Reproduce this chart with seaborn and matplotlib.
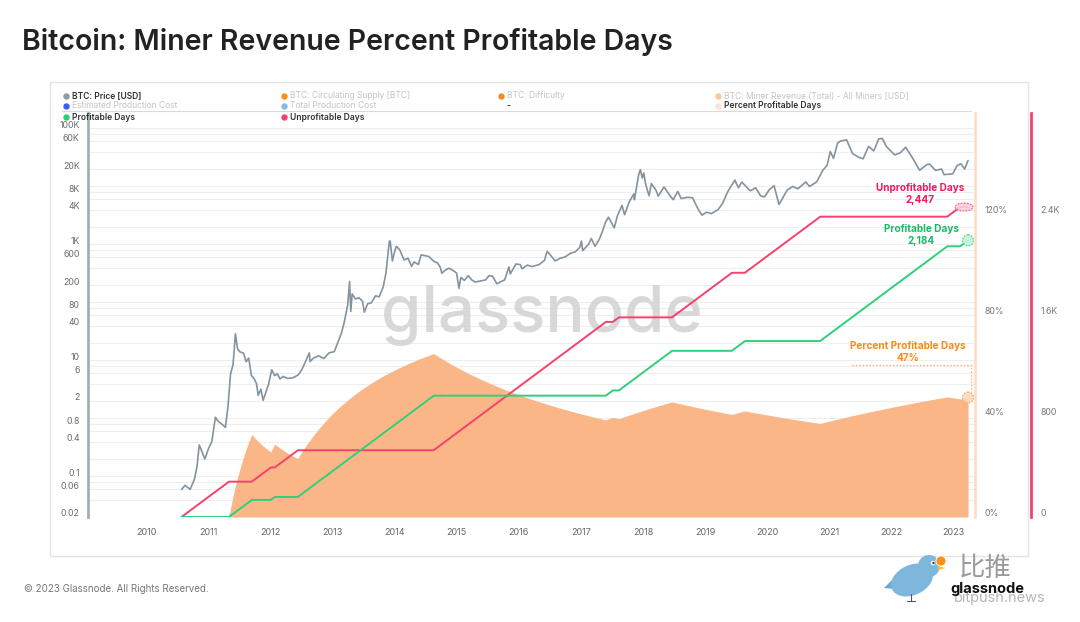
import numpy as np
import pandas as pd
import matplotlib
matplotlib.use("Agg")
import matplotlib.pyplot as plt
import matplotlib.transforms as mtransforms
from matplotlib.patches import Ellipse, Rectangle, Circle, Polygon
import seaborn as sns

# ---------------- data ----------------
price_dates = [
    "2010-07-26", "2010-08-15", "2010-09-15", "2010-10-10", "2010-10-25", "2010-11-07", "2010-11-20",
    "2010-12-10", "2010-12-31", "2011-01-20", "2011-02-10", "2011-02-25", "2011-03-20", "2011-04-10",
    "2011-04-25", "2011-05-10", "2011-05-25", "2011-06-08", "2011-06-20", "2011-07-05", "2011-07-25",
    "2011-08-10", "2011-08-25", "2011-09-10", "2011-09-25", "2011-10-10", "2011-10-20", "2011-11-05",
    "2011-11-18", "2011-12-05", "2011-12-20", "2012-01-08", "2012-01-25", "2012-02-10", "2012-02-25",
    "2012-03-15", "2012-04-10", "2012-05-10", "2012-06-10", "2012-06-30", "2012-07-20", "2012-08-16",
    "2012-08-20", "2012-09-10", "2012-10-10", "2012-11-10", "2012-12-10", "2013-01-10", "2013-01-31",
    "2013-02-20", "2013-03-10", "2013-03-30", "2013-04-10", "2013-04-17", "2013-04-25", "2013-05-15",
    "2013-06-05", "2013-06-25", "2013-07-06", "2013-07-25", "2013-08-15", "2013-09-10", "2013-10-01",
    "2013-10-25", "2013-11-10", "2013-11-30", "2013-12-05", "2013-12-18", "2013-12-31", "2014-01-10",
    "2014-01-30", "2014-02-25", "2014-03-20", "2014-04-10", "2014-04-25", "2014-05-20", "2014-06-05",
    "2014-06-30", "2014-07-20", "2014-08-20", "2014-09-10", "2014-09-25", "2014-10-05", "2014-10-25",
    "2014-11-15", "2014-12-15", "2014-12-31", "2015-01-14", "2015-01-25", "2015-02-15", "2015-03-10",
    "2015-03-30", "2015-04-20", "2015-05-20", "2015-06-20", "2015-07-10", "2015-07-30", "2015-08-25",
    "2015-09-20", "2015-10-10", "2015-11-04", "2015-11-12", "2015-12-15", "2016-01-10", "2016-01-20",
    "2016-02-20", "2016-03-20", "2016-04-30", "2016-05-31", "2016-06-16", "2016-07-01", "2016-08-02",
    "2016-08-30", "2016-09-30", "2016-10-30", "2016-11-30", "2016-12-25", "2017-01-04", "2017-01-11",
    "2017-02-15", "2017-03-03", "2017-03-25", "2017-04-20", "2017-05-10", "2017-05-25", "2017-06-12",
    "2017-07-16", "2017-08-05", "2017-08-31", "2017-09-15", "2017-10-12", "2017-11-08", "2017-11-12",
    "2017-12-07", "2017-12-17", "2017-12-28", "2018-01-06", "2018-01-17", "2018-02-06", "2018-02-20",
    "2018-03-20", "2018-04-01", "2018-05-05", "2018-06-01", "2018-06-28", "2018-07-25", "2018-08-14",
    "2018-09-20", "2018-10-20", "2018-11-25", "2018-12-15", "2019-01-10", "2019-02-08", "2019-03-20",
    "2019-04-15", "2019-05-14", "2019-06-26", "2019-07-17", "2019-08-06", "2019-09-25", "2019-10-26",
    "2019-11-25", "2019-12-18", "2020-01-15", "2020-02-12", "2020-03-12", "2020-04-30", "2020-06-01",
    "2020-07-01", "2020-08-17", "2020-09-08", "2020-10-20", "2020-11-25", "2020-12-20", "2021-01-08",
    "2021-01-27", "2021-02-21", "2021-03-13", "2021-04-14", "2021-05-19", "2021-06-22", "2021-07-20",
    "2021-08-22", "2021-09-21", "2021-10-20", "2021-11-10", "2021-12-04", "2022-01-22", "2022-02-24",
    "2022-03-28", "2022-05-10", "2022-06-18", "2022-07-30", "2022-08-15", "2022-09-20", "2022-10-25",
    "2022-11-09", "2022-12-30", "2023-01-25", "2023-02-16", "2023-03-10", "2023-03-30",
]
price_usd = [
    0.06, 0.07, 0.06, 0.09, 0.15, 0.35, 0.28,
    0.2, 0.3, 0.4, 1.05, 0.9, 0.8, 0.7,
    1.6, 5.8, 8.5, 29, 16, 14, 13.5,
    9.5, 11, 5.5, 4.9, 4.0, 2.5, 3.2,
    2.05, 2.9, 3.9, 6.9, 5.5, 5.9, 4.8,
    5.3, 4.9, 5.0, 5.6, 6.7, 8.9, 13.5,
    9.6, 11, 12, 10.8, 13.5, 14.2, 20.5,
    29, 46, 92, 230, 70, 140, 115,
    120, 105, 68, 95, 98, 130, 125,
    185, 320, 1130, 1150, 520, 750, 930,
    810, 540, 580, 420, 500, 450, 660,
    640, 620, 510, 480, 410, 320, 360,
    390, 350, 320, 175, 270, 240, 290,
    245, 225, 235, 245, 290, 285, 210,
    230, 245, 410, 310, 460, 450, 380,
    440, 415, 450, 530, 760, 680, 520,
    575, 610, 700, 750, 890, 1150, 780,
    1010, 1270, 930, 1240, 1750, 2400, 2950,
    1930, 3200, 4700, 3250, 5400, 7400, 5900,
    16000, 19500, 14000, 17100, 10900, 6900, 11200,
    8500, 6800, 9800, 7500, 5900, 8200, 6200,
    6500, 6400, 3900, 3200, 3600, 3400, 4000,
    5100, 8000, 12900, 9500, 11900, 8400, 9500,
    6900, 6600, 8800, 10300, 4900, 8700, 10000,
    9100, 12000, 10000, 12000, 19000, 23000, 40000,
    30500, 57000, 61000, 63500, 37000, 32000, 30000,
    49000, 41000, 66000, 67500, 49000, 35000, 38000,
    47500, 30000, 19000, 23800, 24300, 18900, 20000,
    16000, 16500, 23000, 24600, 20000, 28000,
]

# runs of miner profitability (1 = profitable day, 0 = unprofitable day)
run_starts = ["2010-07-26", "2011-05-01", "2011-09-13", "2012-01-03", "2012-01-26", "2012-06-10",
              "2014-08-19", "2017-05-28", "2017-07-08", "2017-08-13", "2018-06-22", "2019-06-09",
              "2019-08-25", "2020-11-10", "2022-11-28", "2023-02-12"]
run_profitable = [0, 1, 0, 1, 0, 1, 0, 1, 0, 1, 0, 1, 0, 1, 0, 1]
series_end = "2023-03-31"

year_ticks = list(range(2010, 2024))
price_ticks = [0.02, 0.06, 0.1, 0.4, 0.8, 2, 6, 10, 40, 80, 200, 600, 1000, 4000, 8000, 20000, 60000, 100000]
price_tick_labels = ["0.02", "0.06", "0.1", "0.4", "0.8", "2", "6", "10", "40", "80", "200", "600",
                     "1K", "4K", "8K", "20K", "60K", "100K"]
pct_ticks = [0, 40, 80, 120]
pct_tick_labels = ["0%", "40%", "80%", "120%"]
day_ticks = [0, 800, 1600, 2400]
day_tick_labels = ["0", "800", "1.6K", "2.4K"]

legend_rows = [
    [("BTC: Price [USD]", "#8c9ba5", True), ("BTC: Circulating Supply [BTC]", "#f7931a", False),
     ("BTC: Difficulty", "#f58a1f", False), ("BTC: Miner Revenue (Total) - All Miners [USD]", "#fcc99a", False)],
    [("Estimated Production Cost", "#3b5bfd", False), ("Total Production Cost", "#86bde0", False),
     ("-", None, True), ("Percent Profitable Days", "#fde3cf", True)],
    [("Profitable Days", "#22d36f", True), ("Unprofitable Days", "#f5426c", True)],
]

# ---------------- derived daily series ----------------
days = pd.date_range(run_starts[0], series_end, inclusive="left")
starts = pd.to_datetime(run_starts)
run_idx = np.searchsorted(starts.values, days.values, side="right") - 1
flag = np.array(run_profitable)[run_idx]
prof_cum = np.cumsum(flag)
unprof_cum = np.cumsum(1 - flag)
pct = prof_cum / (prof_cum + unprof_cum) * 100.0
df_days = pd.DataFrame({"date": days, "profitable": prof_cum, "unprofitable": unprof_cum, "pct": pct})
df_price = pd.DataFrame({"date": pd.to_datetime(price_dates), "price": price_usd})

# ---------------- style ----------------
sns.set_theme(style="white")
plt.rcParams["font.family"] = ["Inter", "DejaVu Sans"]

C_PRICE = "#84939d"
C_GREEN = "#2fd07a"
C_PINK = "#f5426c"
C_AREA = "#fbb688"
C_ORANGE_TXT = "#f98a16"
C_GREEN_TXT = "#16bb63"
C_PINK_TXT = "#f2185a"

W, H = 1080, 622
fig = plt.figure(figsize=(W / 100, H / 100), dpi=100)
fig.patch.set_facecolor("white")

PL, PR, PT, PB = 88, 975, 113, 517
axp = fig.add_axes([PL / W, 1 - PB / H, (PR - PL) / W, (PB - PT) / H])  # percent (host)
axd = axp.twinx()   # days
ax = axp.twinx()    # price
axp.set_zorder(1)
axd.set_zorder(2)
ax.set_zorder(3)
for a in (axp, axd, ax):
    a.patch.set_visible(False)

# limits
x0, x1 = pd.Timestamp("2009-01-21"), pd.Timestamp("2023-05-10")
axp.set_xlim(x0, x1)
ax.set_yscale("log")
ax.set_ylim(0.02, 0.02 * 10 ** ((PB - PT) / 58.0))
axp.set_ylim(0, 120 * (PB - PT) / 304.0)
axd.set_ylim(0, 2400 * (PB - PT) / 304.0)

# grid lines (drawn on lowest axes, in price coordinates)
grid_tr = mtransforms.blended_transform_factory(axp.transAxes, ax.transData)
grid_vals = []
for k in range(-2, 6):
    for m in (1, 2, 4, 6, 8):
        v = m * 10.0 ** k
        if 0.02 < v < 150000:
            grid_vals.append(v)
for v in grid_vals:
    axp.plot([0, 1], [v, v], transform=grid_tr, color="#eeeeee", lw=0.8, zorder=0)

# percent area
axp.fill_between(df_days["date"], 0, df_days["pct"], color=C_AREA, lw=0, zorder=1)

# days lines
sns.lineplot(data=df_days, x="date", y="unprofitable", ax=axd, color=C_PINK, lw=1.4, estimator=None, errorbar=None)
sns.lineplot(data=df_days, x="date", y="profitable", ax=axd, color=C_GREEN, lw=1.4, estimator=None, errorbar=None)

# price line
sns.lineplot(data=df_price, x="date", y="price", ax=ax, color=C_PRICE, lw=1.2, estimator=None, errorbar=None)

for a in (axp, axd, ax):
    a.set_xlabel("")
    a.set_ylabel("")
    for s in a.spines.values():
        s.set_visible(False)

# x axis
axp.set_xticks([pd.Timestamp(f"{y}-01-01") for y in year_ticks])
axp.set_xticklabels([str(y) for y in year_ticks])
axp.tick_params(axis="x", direction="in", length=5, color="#e2e2e2", labelsize=6.5, labelcolor="#666666", pad=8)

label_shift = mtransforms.ScaledTranslation(0, 4 / 100, fig.dpi_scale_trans)

# left price axis
ax.yaxis.set_ticks_position("left")
ax.yaxis.set_label_position("left")
ax.set_yticks(price_ticks)
ax.set_yticklabels(price_tick_labels)
ax.yaxis.set_minor_locator(matplotlib.ticker.NullLocator())
ax.tick_params(axis="y", which="both", length=0, labelsize=6.3, labelcolor="#6b6b6b", pad=6)
ax.spines["left"].set_visible(True)
ax.spines["left"].set_color("#a3aeb6")
ax.spines["left"].set_linewidth(2)

# percent axis (right)
axp.yaxis.tick_right()
axp.set_yticks(pct_ticks)
axp.set_yticklabels(pct_tick_labels)
axp.tick_params(axis="y", length=0, labelsize=6.3, labelcolor="#777777", pad=7)
axp.spines["right"].set_visible(True)
axp.spines["right"].set_color("#fddcc6")
axp.spines["right"].set_linewidth(1.8)

# days axis (right, offset)
axd.yaxis.tick_right()
axd.spines["right"].set_visible(True)
axd.spines["right"].set_position(("outward", 40))
axd.spines["right"].set_color(C_PINK)
axd.spines["right"].set_linewidth(2)
axd.set_yticks(day_ticks)
axd.set_yticklabels(day_tick_labels)
axd.tick_params(axis="y", length=0, labelsize=6.3, labelcolor="#777777", pad=7)

for a in (ax, axp, axd):
    for lbl in a.get_yticklabels():
        lbl.set_transform(lbl.get_transform() + label_shift)

# watermark
axp.text(0.512, 0.50, "glassnode", transform=axp.transAxes, ha="center", va="center",
         fontsize=47, color="#d2d2d2", alpha=0.85, zorder=0.5, fontweight="medium")

# ---------------- overlay in pixel coordinates ----------------
ov = fig.add_axes([0, 0, 1, 1])
ov.set_xlim(0, W)
ov.set_ylim(H, 0)
ov.axis("off")
ov.patch.set_visible(False)
ov.set_zorder(10)

# panel border
ov.add_patch(Rectangle((50, 82), 978, 474, fill=False, ec="#e4e4e4", lw=1))

# title
ov.text(22, 42, "Bitcoin: Miner Revenue Percent Profitable Days", fontsize=20.5, fontweight="semibold",
        color="#222222", ha="left", va="center")

# legend
col_x = [66, 284, 501, 718]
row_y = [96, 106, 117]
for r, row in enumerate(legend_rows):
    for c, (txt, colr, active) in enumerate(row):
        x = col_x[c]
        y = row_y[r]
        if colr is not None:
            ov.plot([x], [y], marker="o", ms=4.6, color=colr, mec="none")
        ov.text(x + 6 if colr is not None else x + 5, y, txt, fontsize=6.1, va="center", ha="left",
                color="#333333" if active else "#c4c4c4", fontweight="semibold" if active else "normal")
ov.plot([62, 971], [111, 111], color="#dadada", lw=0.8)

# footer
ov.text(24, 589, "© 2023 Glassnode. All Rights Reserved.", fontsize=7, color="#777777", va="center", ha="left")

# end-point annotations
def to_px(a, xval, yval):
    xd = matplotlib.dates.date2num(xval)
    px, py = a.transData.transform((xd, yval))
    return px, H - py

last_date = df_days["date"].iloc[-1]
u_last = int(df_days["unprofitable"].iloc[-1])
p_last = int(df_days["profitable"].iloc[-1])
pct_last = float(df_days["pct"].iloc[-1])

ux, uy = to_px(axd, last_date, u_last)
gx, gy = to_px(axd, last_date, p_last)
ox, oy = to_px(axp, last_date, pct_last)

ov.add_patch(Ellipse((ux - 4, uy), 18, 8, fc="#fbd0db", ec=C_PINK, lw=0.8, ls=(0, (1.5, 1.2)), alpha=0.9))
ov.add_patch(Circle((gx, gy), 5.5, fc="#c9f2da", ec=C_GREEN, lw=0.8, ls=(0, (1.5, 1.2)), alpha=0.9))
ov.add_patch(Circle((ox, oy), 5.5, fc="#fdd9bf", ec="#f7a35c", lw=0.8, ls=(0, (1.5, 1.2)), alpha=0.9))
ov.plot([ox - 116, ox + 3, ox + 3], [oy - 33, oy - 33, oy - 6], color="#f9b27a", lw=0.9, ls=(0, (1.2, 1.5)))

ov.text(ux - 48, uy - 19, "Unprofitable Days", fontsize=7.2, fontweight="bold", color=C_PINK_TXT, ha="center", va="center")
ov.text(ux - 48, uy - 7, f"{u_last:,}", fontsize=7.2, fontweight="bold", color=C_PINK_TXT, ha="center", va="center")
ov.text(gx - 47, gy - 11, "Profitable Days", fontsize=7.2, fontweight="bold", color=C_GREEN_TXT, ha="center", va="center")
ov.text(gx - 47, gy + 1, f"{p_last:,}", fontsize=7.2, fontweight="bold", color=C_GREEN_TXT, ha="center", va="center")
ov.text(ox - 60, oy - 52, "Percent Profitable Days", fontsize=7.2, fontweight="bold", color=C_ORANGE_TXT, ha="center", va="center")
ov.text(ox - 60, oy - 40, f"{pct_last:.0f}%", fontsize=7.2, fontweight="bold", color=C_ORANGE_TXT, ha="center", va="center")

# bottom-right logo (bird + text)
bird = "#7db8dc"
ov.add_patch(Polygon([[884, 588], [900, 572], [906, 590]], closed=True, fc="#6aa9d2", ec="none"))
ov.add_patch(Ellipse((912, 580), 44, 30, angle=-25, fc=bird, ec="none"))
ov.add_patch(Circle((929, 566), 11, fc=bird, ec="none"))
ov.add_patch(Circle((933, 563), 2.2, fc="white", ec="none"))
ov.add_patch(Circle((933.5, 563), 1.1, fc="#222222", ec="none"))
ov.add_patch(Polygon([[938, 566], [946, 568], [938, 570]], closed=True, fc="#f3c623", ec="none"))
ov.add_patch(Circle((941, 561), 5, fc="#f7931a", ec="white", lw=0.6))
ov.plot([911, 911], [594, 601], color="#555555", lw=0.8)
ov.plot([907, 915], [601, 601], color="#555555", lw=0.8)
ov.text(985, 568, "比推", fontsize=19, color="#9a9a9a", ha="center", va="center",
        family=["Noto Sans CJK SC", "DejaVu Sans"])
ov.text(1000, 598, "bitpush.news", fontsize=10.5, color="#b5b5b5", ha="center", va="center")
ov.text(987, 589, "glassnode", fontsize=10.5, color="#111111", ha="center", va="center", fontweight="bold")

fig.savefig("out.png", dpi=100, facecolor="white")
